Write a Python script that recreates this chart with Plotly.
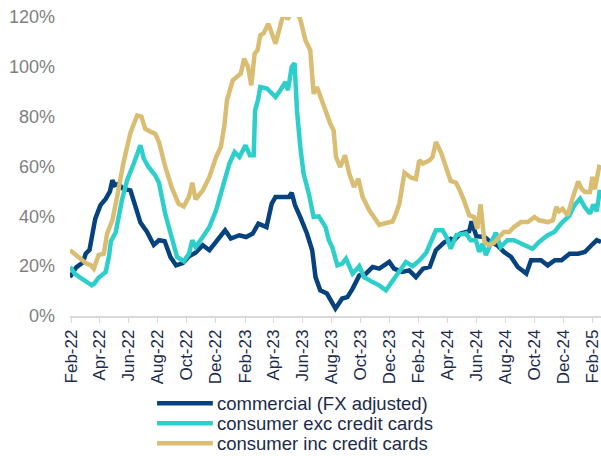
import plotly.graph_objects as go

series_names = ["commercial (FX adjusted)", "consumer exc credit cards", "consumer inc credit cards"]

commercial_dates = [
    "2022-01-29", "2022-02-11", "2022-02-25", "2022-03-03", "2022-03-11", "2022-03-16", "2022-03-23",
    "2022-04-03", "2022-04-14", "2022-04-23", "2022-04-28", "2022-05-03", "2022-05-11", "2022-05-21",
    "2022-05-28", "2022-06-05", "2022-06-16", "2022-06-26", "2022-07-10", "2022-07-24", "2022-08-04",
    "2022-08-16", "2022-08-28", "2022-09-09", "2022-09-23", "2022-10-06", "2022-10-20", "2022-11-04",
    "2022-11-18", "2022-12-05", "2022-12-21", "2023-01-02", "2023-01-20", "2023-02-03", "2023-02-17",
    "2023-03-01", "2023-03-18", "2023-03-29", "2023-04-06", "2023-04-23", "2023-05-04", "2023-05-10",
    "2023-05-17", "2023-05-28", "2023-06-11", "2023-06-22", "2023-06-29", "2023-07-09", "2023-07-23",
    "2023-08-10", "2023-08-24", "2023-09-04", "2023-09-15", "2023-09-29", "2023-10-13", "2023-10-27",
    "2023-11-10", "2023-12-01", "2023-12-11", "2023-12-28", "2024-01-12", "2024-01-26", "2024-02-10",
    "2024-02-24", "2024-03-08", "2024-03-25", "2024-04-08", "2024-04-15", "2024-04-29", "2024-05-17",
    "2024-05-22", "2024-06-01", "2024-06-18", "2024-07-01", "2024-07-15", "2024-07-29", "2024-08-13",
    "2024-08-27", "2024-09-14", "2024-09-24", "2024-10-15", "2024-10-29", "2024-11-13", "2024-11-27",
    "2024-12-14", "2025-01-01", "2025-01-15", "2025-01-29", "2025-02-09", "2025-02-18",
]
commercial_values = [
    15.6, 19.5, 21.5, 25.0, 26.5, 31.0, 39.0,
    44.5, 47.0, 50.0, 54.5, 52.5, 53.0, 51.0,
    50.5, 50.4, 43.7, 37.5, 33.7, 28.5, 30.4,
    30.0, 23.7, 20.3, 21.2, 24.0, 25.4, 28.4,
    26.4, 30.4, 34.4, 31.1, 32.4, 31.7, 33.1,
    37.1, 35.7, 45.1, 47.8, 47.8, 47.8, 49.4,
    44.4, 39.7, 33.1, 26.4, 15.6, 10.3, 9.0,
    3.0, 7.0, 7.6, 11.0, 16.3, 17.0, 19.7,
    19.0, 21.7, 19.0, 17.7, 18.3, 15.6, 19.0,
    19.7, 26.4, 29.5, 31.0, 30.4, 33.1, 34.0,
    38.0, 32.0, 31.7, 29.7, 28.4, 25.7, 23.7,
    19.7, 17.0, 22.4, 22.4, 20.3, 22.4, 22.4,
    25.0, 25.0, 25.7, 28.4, 30.4, 29.7,
]

exc_dates = [
    "2022-01-29", "2022-02-08", "2022-02-18", "2022-03-02", "2022-03-16", "2022-03-21", "2022-03-30",
    "2022-04-14", "2022-04-21", "2022-04-25", "2022-05-05", "2022-05-18", "2022-05-29", "2022-06-12",
    "2022-06-26", "2022-07-03", "2022-07-13", "2022-07-27", "2022-08-04", "2022-08-17", "2022-08-31",
    "2022-09-11", "2022-09-25", "2022-10-06", "2022-10-13", "2022-10-20", "2022-11-04", "2022-11-18",
    "2022-12-02", "2022-12-16", "2022-12-30", "2023-01-10", "2023-01-20", "2023-02-02", "2023-02-11",
    "2023-02-19", "2023-02-22", "2023-02-28", "2023-03-05", "2023-03-19", "2023-04-06", "2023-04-16",
    "2023-04-27", "2023-05-02", "2023-05-10", "2023-05-16", "2023-05-21", "2023-05-28", "2023-06-04",
    "2023-06-15", "2023-06-25", "2023-07-06", "2023-07-20", "2023-07-27", "2023-08-03", "2023-08-14",
    "2023-08-24", "2023-09-01", "2023-09-15", "2023-09-29", "2023-10-09", "2023-10-27", "2023-11-10",
    "2023-11-24", "2023-12-08", "2023-12-22", "2024-01-05", "2024-01-19", "2024-02-03", "2024-02-17",
    "2024-03-01", "2024-03-08", "2024-03-22", "2024-04-01", "2024-04-08", "2024-04-20", "2024-05-10",
    "2024-05-20", "2024-05-31", "2024-06-07", "2024-06-14", "2024-06-21", "2024-07-01", "2024-07-12",
    "2024-07-22", "2024-08-05", "2024-08-19", "2024-09-03", "2024-09-13", "2024-09-27", "2024-10-11",
    "2024-10-29", "2024-11-12", "2024-11-26", "2024-12-14", "2024-12-24", "2025-01-05", "2025-01-15",
    "2025-01-26", "2025-02-02", "2025-02-09", "2025-02-15", "2025-02-18",
]
exc_values = [
    19.7, 17.0, 15.6, 14.3, 12.3, 13.0, 15.3,
    17.7, 24.0, 30.0, 33.5, 46.4, 54.5, 61.2,
    68.5, 63.2, 59.8, 56.5, 53.5, 41.1, 30.4,
    23.7, 22.0, 25.0, 30.4, 27.7, 31.7, 35.7,
    42.4, 51.8, 61.2, 65.8, 63.8, 68.5, 64.5,
    64.5, 82.5, 86.6, 91.9, 91.3, 87.9, 90.6,
    93.9, 90.6, 100.0, 101.5, 82.5, 67.8, 57.1,
    49.1, 39.7, 40.0, 35.7, 30.4, 27.7, 20.3,
    21.0, 23.0, 17.0, 20.0, 15.6, 13.6, 12.3,
    10.3, 14.0, 18.0, 21.7, 20.0, 22.4, 25.5,
    31.0, 34.4, 34.4, 31.1, 27.0, 32.5, 33.1,
    30.4, 30.4, 25.7, 29.0, 24.4, 29.0, 33.4,
    27.7, 30.4, 30.4, 29.0, 28.4, 27.0, 29.7,
    32.4, 33.7, 37.1, 40.4, 44.4, 47.1, 43.7,
    41.1, 44.7, 42.0, 49.8, 49.8,
]

inc_dates = [
    "2022-01-29", "2022-02-18", "2022-03-05", "2022-03-13", "2022-03-20", "2022-03-30", "2022-04-10",
    "2022-04-17", "2022-04-28", "2022-05-08", "2022-05-21", "2022-06-05", "2022-06-19", "2022-06-28",
    "2022-07-06", "2022-07-17", "2022-07-27", "2022-08-04", "2022-08-17", "2022-08-31", "2022-09-14",
    "2022-09-25", "2022-10-06", "2022-10-13", "2022-10-20", "2022-11-04", "2022-11-18", "2022-12-02",
    "2022-12-12", "2022-12-19", "2022-12-25", "2023-01-06", "2023-01-16", "2023-01-23", "2023-01-30",
    "2023-02-07", "2023-02-14", "2023-02-21", "2023-02-27", "2023-03-05", "2023-03-12", "2023-03-22",
    "2023-04-06", "2023-04-13", "2023-04-19", "2023-04-25", "2023-05-01", "2023-05-07", "2023-05-16",
    "2023-05-28", "2023-06-08", "2023-06-18", "2023-06-25", "2023-07-02", "2023-07-09", "2023-07-20",
    "2023-07-30", "2023-08-06", "2023-08-11", "2023-08-20", "2023-08-30", "2023-09-08", "2023-09-18",
    "2023-09-27", "2023-10-06", "2023-10-20", "2023-10-31", "2023-11-10", "2023-11-24", "2023-12-08",
    "2023-12-15", "2023-12-22", "2024-01-02", "2024-01-16", "2024-01-26", "2024-02-02", "2024-02-10",
    "2024-02-24", "2024-03-01", "2024-03-08", "2024-03-19", "2024-03-29", "2024-04-08", "2024-04-19",
    "2024-04-26", "2024-05-06", "2024-05-17", "2024-05-27", "2024-06-03", "2024-06-10", "2024-06-14",
    "2024-06-18", "2024-06-28", "2024-07-08", "2024-07-19", "2024-07-29", "2024-08-09", "2024-08-19",
    "2024-09-03", "2024-09-17", "2024-10-01", "2024-10-11", "2024-10-29", "2024-11-09", "2024-11-16",
    "2024-11-22", "2024-11-29", "2024-12-10", "2024-12-20", "2025-01-01", "2025-01-08", "2025-01-15",
    "2025-01-26", "2025-01-31", "2025-02-05", "2025-02-14", "2025-02-18",
]
inc_values = [
    26.4, 23.0, 21.0, 20.5, 19.0, 24.4, 25.0,
    33.1, 38.4, 47.8, 61.2, 73.5, 80.5, 80.0,
    75.2, 74.0, 73.2, 69.8, 60.0, 51.5, 45.1,
    44.0, 47.8, 53.5, 46.8, 50.4, 55.8, 63.8,
    67.8, 75.8, 86.6, 94.6, 95.9, 97.3, 103.3,
    100.0, 92.6, 105.3, 106.6, 112.6, 113.5, 117.3,
    109.3, 114.0, 119.0, 123.0, 119.0, 121.0, 124.0,
    119.0, 110.6, 106.6, 89.2, 91.9, 87.9, 82.5,
    77.2, 74.5, 63.8, 59.8, 64.5, 57.1, 51.8,
    55.1, 47.8, 42.4, 39.7, 36.6, 37.3, 37.9,
    41.1, 45.0, 57.5, 55.5, 55.0, 62.5, 61.2,
    62.5, 63.8, 69.8, 65.5, 59.8, 54.2, 53.5,
    51.0, 46.4, 40.4, 39.7, 35.0, 44.8, 38.0,
    29.7, 28.4, 29.3, 31.7, 33.7, 33.7, 35.7,
    37.7, 37.7, 39.7, 38.4, 37.7, 38.4, 43.7,
    42.0, 43.0, 40.4, 47.1, 54.0, 51.1, 49.8,
    49.8, 55.8, 50.8, 59.8, 59.5,
]

y_tick_values = [0, 20, 40, 60, 80, 100, 120]
y_tick_labels = ["0%", "20%", "40%", "60%", "80%", "100%", "120%"]

colors = ["#06427D", "#2ECFCB", "#D9BD72"]
text_dark = "#1C2B4A"
font_family = "Liberation Sans, Arial, sans-serif"

fig = go.Figure()
for name, xs, ys, c in zip(series_names,
                           [commercial_dates, exc_dates, inc_dates],
                           [commercial_values, exc_values, inc_values],
                           colors):
    fig.add_trace(go.Scatter(x=xs, y=ys, name=name, mode="lines",
                             line=dict(color=c, width=4.5), showlegend=False))

# Legend drawn below the axis: a line swatch and a label per series
legend_rows_y = [-0.292, -0.359, -0.426]
for name, c, ly in zip(series_names, colors, legend_rows_y):
    fig.add_shape(type="line", xref="paper", yref="paper",
                  x0=0.164, x1=0.269, y0=ly, y1=ly,
                  line=dict(color=c, width=4.5))
    fig.add_annotation(text=name, xref="paper", yref="paper", x=0.274, y=ly,
                       xanchor="left", yanchor="middle", showarrow=False,
                       font=dict(size=18.5, color=text_dark))

fig.update_layout(
    width=601, height=456,
    margin=dict(l=70, r=0, t=17, b=140, autoexpand=False),
    paper_bgcolor="white", plot_bgcolor="white",
    font=dict(family=font_family),
    showlegend=False,
)
fig.update_xaxes(
    type="date", range=["2022-01-29", "2025-02-18"],
    tick0="2022-02-01", dtick="M2", tickformat="%b-%y", tickangle=-90,
    showgrid=False, showline=True, linecolor="#D9D9D9", linewidth=1.5,
    ticks="outside", ticklen=5, tickcolor="#D9D9D9",
    tickfont=dict(size=17, color=text_dark), zeroline=False,
    automargin=False, ticklabeloverflow="allow",
)
fig.update_yaxes(
    range=[0, 120], tickvals=y_tick_values, ticktext=y_tick_labels,
    showgrid=False, showline=False, zeroline=False,
    tickfont=dict(size=18, color="#7F7F7F"), ticklabelstandoff=14,
    automargin=False,
)

fig.write_html("out.html", config={"displayModeBar": False},
               post_script="document.body.style.margin='0';")
